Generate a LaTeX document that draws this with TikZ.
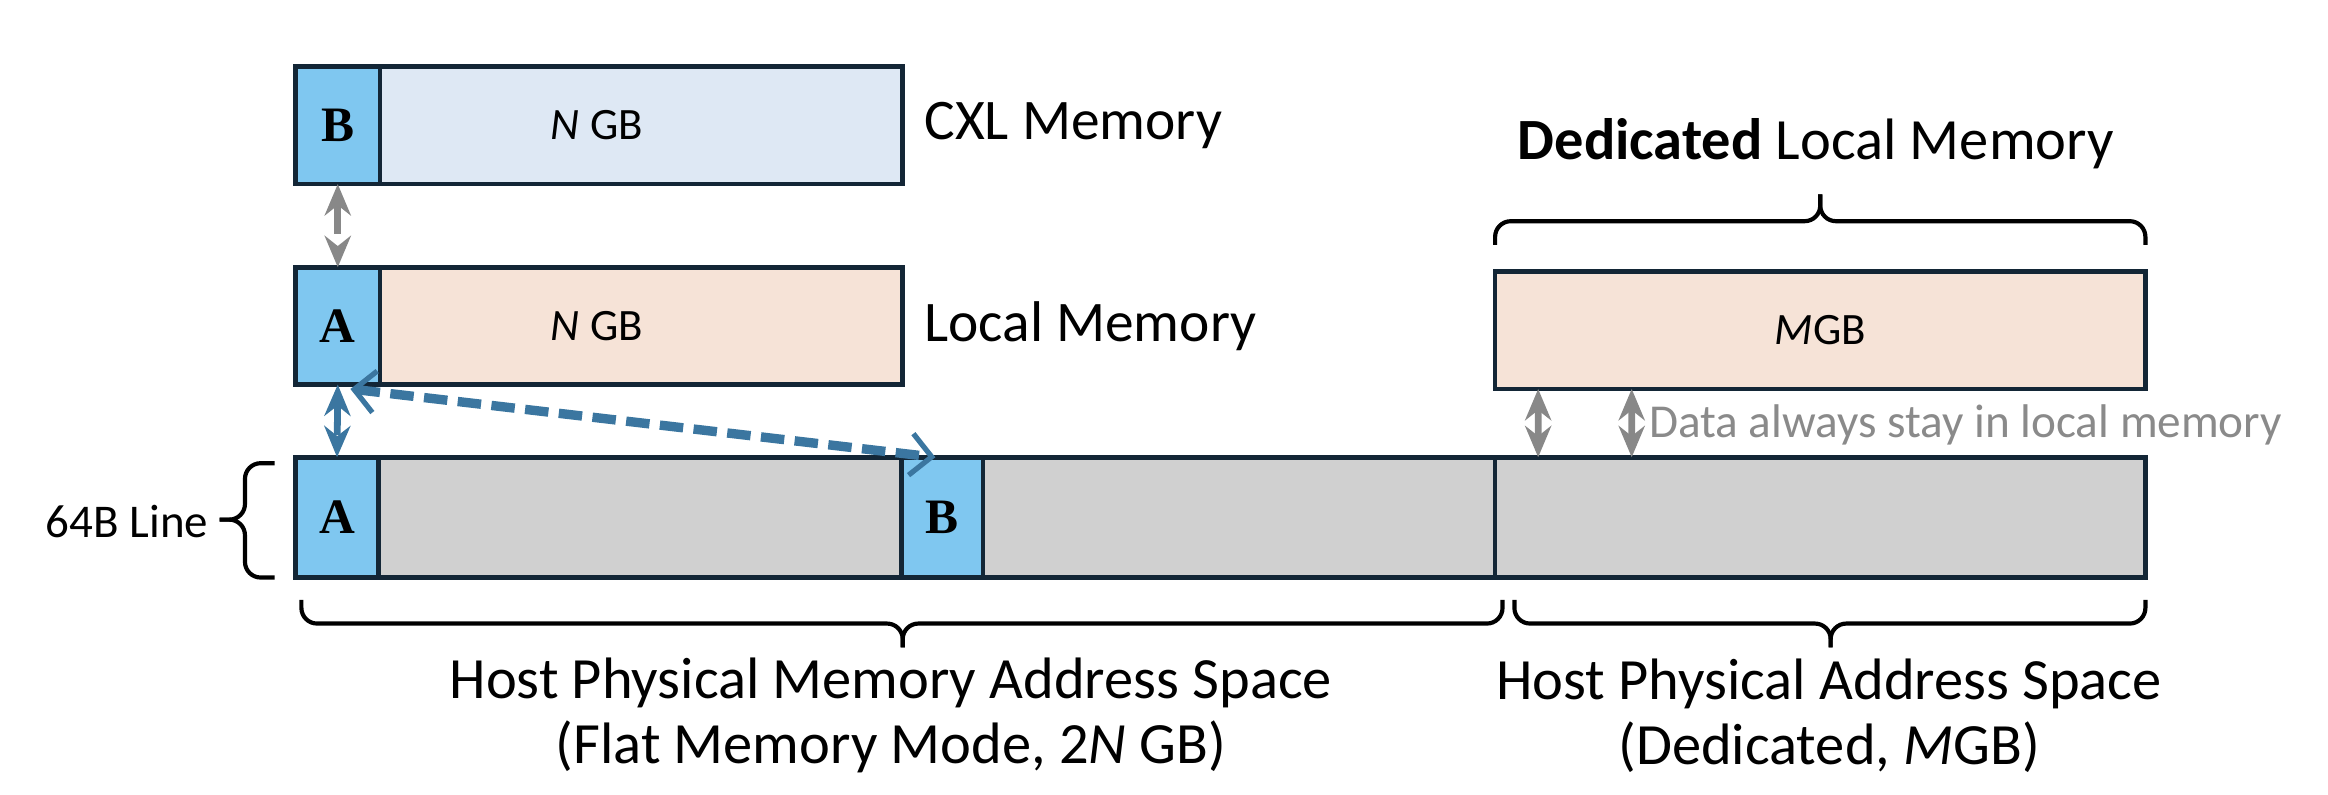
\documentclass[tikz,border=0pt]{standalone}
\usepackage{fontspec}
\setmainfont{Carlito}
\newfontfamily\cellfont{Liberation Serif}
\usepackage{tikz}
\usetikzlibrary{positioning,arrows.meta}
\definecolor{edge}{HTML}{132636}
\definecolor{cellblue}{HTML}{7FC7F0}
\definecolor{cxlfill}{HTML}{DEE8F4}
\definecolor{locfill}{HTML}{F6E3D7}
\definecolor{barfill}{HTML}{D0D0D0}
\definecolor{linkgray}{HTML}{888888}
\definecolor{linkblue}{HTML}{3B76A0}
\definecolor{notegray}{HTML}{8A8A8A}

\tikzset{
  cell/.style={draw=edge, line width=0.9pt, fill=cellblue, minimum width=0.57cm,
    minimum height=0.79cm, inner sep=0pt, outer sep=0pt, anchor=south west,
    font=\cellfont\bfseries\fontsize{9.5}{9.5}\selectfont},
  memblock/.style={draw=edge, line width=0.9pt, minimum height=0.79cm,
    inner sep=0pt, outer sep=0pt},
  sizetext/.style={font=\fontsize{8.6}{8.6}\selectfont, inner sep=0pt},
  memlabel/.style={font=\fontsize{11}{11}\selectfont, inner sep=0pt, anchor=west},
  spacelabel/.style={font=\fontsize{11.2}{12.4}\selectfont, align=center, inner sep=0pt},
  graylink/.style={draw=linkgray, line width=1.3pt, dash pattern=on 6pt off 3pt,
    {Stealth[length=6pt,width=5pt]}-{Stealth[length=6pt,width=5pt]}},
  bluelink/.style={draw=linkblue, line width=1.3pt, dash pattern=on 6pt off 3pt,
    {Stealth[length=6pt,width=5pt]}-{Stealth[length=6pt,width=5pt]}},
  bluediag/.style={draw=linkblue, line width=1.8pt, dash pattern=on 4.5pt off 2pt,
    {Straight Barb[length=4pt,width=8pt,line width=1pt]}-{Straight Barb[length=4pt,width=8pt,line width=1pt]}},
  brc/.style={draw, line width=0.8pt, rounded corners=3pt}
}

\begin{document}
\begin{tikzpicture}
  \useasboundingbox (0,0) rectangle (15.68,5.35);

  % CXL memory row
  \node[cell] (cxlB) at (1.99,4.11) {B};
  \node[memblock, fill=cxlfill, minimum width=3.52cm, right=0pt of cxlB] (cxl) {};
  \node[sizetext] (cxlsize) at ([xshift=-0.3cm]cxl.center) {\textit{N} GB};
  \node[memlabel, right=0.14cm of cxl] (cxllbl) {CXL Memory};

  % Local memory row
  \node[cell] (locA) at (1.99,2.76) {A};
  \node[memblock, fill=locfill, minimum width=3.52cm, right=0pt of locA] (loc) {};
  \node[sizetext] (locsize) at ([xshift=-0.3cm]loc.center) {\textit{N} GB};
  \node[memlabel, right=0.14cm of loc] (loclbl) {Local Memory};

  % Dedicated local memory
  \node[memblock, fill=locfill, minimum width=4.38cm, anchor=south west,
    font=\fontsize{8.6}{8.6}\selectfont] (ded) at (10.07,2.73) {\textit{M}GB};
  \draw[brc] (10.07,3.70) -- (10.07,3.86) -- (12.26,3.86) -- (12.26,4.04);
  \draw[brc] (14.45,3.70) -- (14.45,3.86) -- (12.26,3.86) -- (12.26,4.04);
  \node[font=\fontsize{11.2}{11.2}\selectfont, inner sep=0pt] (dedlbl) at (12.23,4.38)
    {\textbf{Dedicated} Local Memory};

  % Host address space bar
  \node[memblock, fill=barfill, minimum width=8.08cm, minimum height=0.81cm,
    anchor=south west] (flatbar) at (1.99,1.46) {};
  \node[memblock, fill=barfill, minimum width=4.38cm, minimum height=0.81cm,
    right=0pt of flatbar] (dedbar) {};
  \node[cell, minimum height=0.81cm, minimum width=0.56cm] (barA) at (1.99,1.46) {A};
  \node[cell, minimum height=0.81cm, minimum width=0.55cm] (barB) at (6.07,1.46) {B};

  % 64B line brace
  \draw[brc] (1.85,2.23) -- (1.65,2.23) -- (1.65,1.85) -- (1.48,1.85);
  \draw[brc] (1.85,1.46) -- (1.65,1.46) -- (1.65,1.85) -- (1.48,1.85);
  \node[font=\fontsize{9}{9}\selectfont, anchor=east, inner sep=0pt] (linelbl) at (1.41,1.84) {64B Line};

  % Address space braces
  \draw[brc] (2.03,1.31) -- (2.03,1.15) -- (6.08,1.15) -- (6.08,0.99);
  \draw[brc] (10.12,1.31) -- (10.12,1.15) -- (6.08,1.15) -- (6.08,0.99);
  \draw[brc] (10.20,1.31) -- (10.20,1.15) -- (12.33,1.15) -- (12.33,0.99);
  \draw[brc] (14.45,1.31) -- (14.45,1.15) -- (12.33,1.15) -- (12.33,0.99);
  \node[spacelabel] (flatcap) at (6.00,0.53)
    {Host Physical Memory Address Space\\(Flat Memory Mode, 2\textit{N} GB)};
  \node[spacelabel] (dedcap) at (12.32,0.53)
    {Host Physical Address Space\\(Dedicated, \textit{M}GB)};

  % Data movement
  \draw[graylink] (cxlB.south) -- (locA.north);
  \draw[bluelink] (locA.south) -- (barA.north);
  \draw[bluediag] ([xshift=-0.2cm,yshift=-0.03cm]locA.south east) -- ([xshift=0.23cm]barB.north west);

  % Dedicated stays local
  \draw[graylink] ([xshift=0.29cm]ded.south west) -- ([xshift=0.29cm]dedbar.north west);
  \draw[graylink] ([xshift=0.92cm]ded.south west) -- ([xshift=0.92cm]dedbar.north west);
  \node[font=\fontsize{9.05}{9.05}\selectfont, text=notegray, anchor=west, inner sep=0pt]
    (note) at (11.10,2.49) {Data always stay in local memory};
\end{tikzpicture}
\end{document}
